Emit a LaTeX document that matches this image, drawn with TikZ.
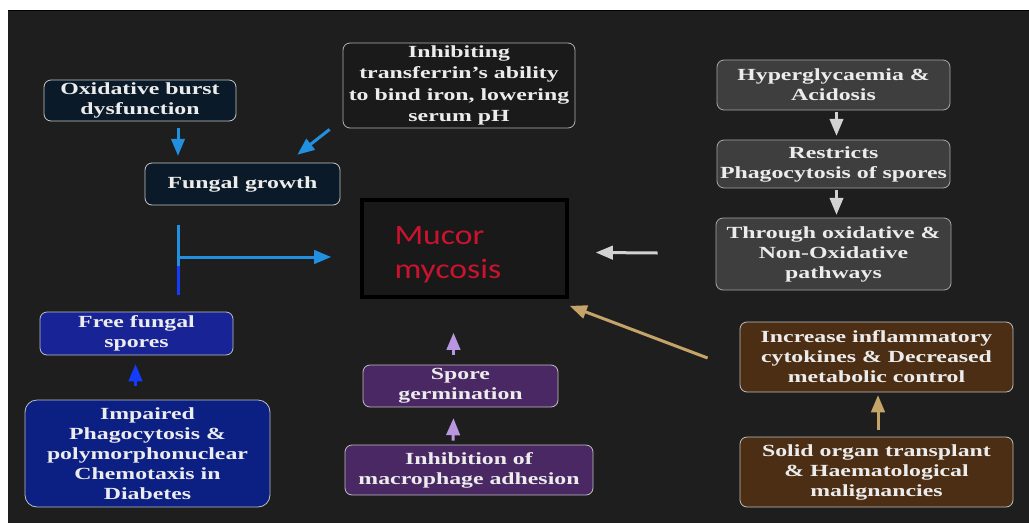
\documentclass[tikz,border=0pt]{standalone}
\usepackage{fontspec}
\setmainfont{Liberation Serif}[FakeStretch=1.4]
\newfontfamily\mucorfont{Carlito}[FakeStretch=1.2]
\usetikzlibrary{shapes,arrows,positioning}
\definecolor{bgdark}{RGB}{30,30,30}
\definecolor{boxtext}{RGB}{236,236,236}
\definecolor{navyfill}{RGB}{10,26,40}
\definecolor{inhibfill}{RGB}{26,26,26}
\definecolor{sporeblue}{RGB}{24,36,150}
\definecolor{impairedblue}{RGB}{12,32,132}
\definecolor{purplefill}{RGB}{74,40,100}
\definecolor{greyfill}{RGB}{62,62,62}
\definecolor{brownfill}{RGB}{76,46,20}
\definecolor{arrowblue}{RGB}{34,144,222}
\definecolor{brightblue}{RGB}{20,60,255}
\definecolor{arrowtan}{RGB}{196,164,104}
\definecolor{arrowlilac}{RGB}{184,150,224}
\definecolor{arrowgrey}{RGB}{210,210,210}
\definecolor{mucorred}{RGB}{204,18,46}

\tikzset{
  basebox/.style={rectangle, rounded corners=7pt, inner sep=2pt, align=center,
    text=boxtext, line width=0.8pt,
    font=\bfseries\fontsize{17}{20}\selectfont},
  navybox/.style={basebox, fill=navyfill, draw=gray!45},
  inhibbox/.style={basebox, fill=inhibfill, draw=gray!60},
  bluebox/.style={basebox, fill=#1, draw=gray!50},
  purplebox/.style={basebox, fill=purplefill, draw=gray!50},
  greybox/.style={basebox, fill=greyfill, draw=gray!70},
  brownbox/.style={basebox, fill=brownfill, draw=gray!50},
  mucorbox/.style={rectangle, fill=black!90, draw=black, line width=4pt,
    align=left, text=mucorred, font=\mucorfont\fontsize{28}{34}\selectfont},
  flow/.style={-triangle 45, line width=3pt, draw=#1},
}

\begin{document}
\begin{tikzpicture}[x=1pt, y=-1pt]
  \useasboundingbox (0,0) rectangle (1029,523);
  \fill[white] (0,0) rectangle (1029,523);
  \fill[bgdark] (8,10) rectangle (1029,523);
  \draw[black, line width=1pt] (8,10.5) -- (1029,10.5);

  % left column
  \node[navybox, minimum width=192pt, minimum height=41pt] (oxid) at (140,100.5) {Oxidative burst\\dysfunction};
  \node[navybox, minimum width=195pt, minimum height=42pt] (fungal) at (242.5,184) {Fungal growth};
  \node[inhibbox, minimum width=232pt, minimum height=85pt, font=\bfseries\fontsize{17}{21.5}\selectfont] (inhib) at (459,85.5) {Inhibiting\\transferrin's ability\\to bind iron, lowering\\serum pH};
  \node[bluebox=sporeblue, minimum width=193pt, minimum height=43pt] (free) at (136.5,333.5) {Free fungal\\spores};
  \node[bluebox=impairedblue, rounded corners=12pt, minimum width=245pt, minimum height=107pt] (impaired) at (147.5,453.5) {Impaired\\Phagocytosis \&\\polymorphonuclear\\Chemotaxis in\\Diabetes};

  % centre
  \node[mucorbox, minimum width=205pt, minimum height=97pt, text width=140pt, inner xsep=31pt] (mucor) at (464.5,248.5) {\rule{0pt}{30pt}Mucor\\mycosis};
  \node[purplebox, minimum width=195pt, minimum height=42pt] (spore) at (460.5,386) {Spore\\germination};
  \node[purplebox, minimum width=248pt, minimum height=50pt] (inhmac) at (469,470) {Inhibition of\\macrophage adhesion};

  % right column
  \node[greybox, minimum width=233pt, minimum height=50pt] (hyper) at (833.5,85) {Hyperglycaemia \&\\Acidosis};
  \node[greybox, minimum width=233pt, minimum height=48pt] (restr) at (833.5,164) {Restricts\\Phagocytosis of spores};
  \node[greybox, minimum width=235pt, minimum height=72pt] (through) at (833.5,254) {Through oxidative \&\\Non-Oxidative\\pathways};
  \node[brownbox, minimum width=273pt, minimum height=70pt] (increase) at (876.5,357) {Increase inflammatory\\cytokines \& Decreased\\metabolic control};
  \node[brownbox, minimum width=273pt, minimum height=70pt] (solid) at (876.5,472) {Solid organ transplant\\\& Haematological\\malignancies};

  % T-bar towards the centre
  \coordinate (ttop) at (178,225);
  \coordinate (tmid) at (178,257);
  \coordinate (tlow) at (178,266);
  \coordinate (tbot) at (178,295);
  \coordinate (tend) at (331,257);

  % connectors
  \draw[flow=arrowblue] ([xshift=38pt,yshift=-7pt]oxid.south) -- ([xshift=-64.5pt,yshift=7pt]fungal.north);
  \draw[flow=arrowblue] ([shift={(-13pt,-1pt)}]inhib.south west) -- ([shift={(55pt,8pt)}]fungal.north);
  \draw[arrowblue, line width=3pt] (ttop) -- (tlow);
  \draw[brightblue, line width=3pt] (tlow) -- (tbot);
  \draw[flow=arrowblue] (tmid) -- (tend);
  \draw[flow=brightblue] ([xshift=-12pt,yshift=14pt]impaired.north) -- ([xshift=-1pt,yshift=-9pt]free.south);
  \draw[flow=arrowgrey] ([xshift=-58pt,yshift=1pt]through.west) -- ([xshift=27pt,yshift=-4pt]mucor.east);
  \draw[flow=arrowtan] ([shift={(-32pt,-1pt)}]increase.west) -- ([shift={(1pt,-7pt)}]mucor.south east);
  \draw[flow=arrowlilac] ([xshift=-7pt,yshift=10pt]spore.north) -- ([xshift=-11pt,yshift=-34pt]mucor.south);
  \draw[flow=arrowlilac] ([xshift=-16pt,yshift=4pt]inhmac.north) -- ([xshift=-7pt,yshift=-11pt]spore.south);
  \draw[flow=arrowgrey] ([xshift=3pt,yshift=-2pt]hyper.south) -- ([xshift=3pt,yshift=4pt]restr.north);
  \draw[flow=arrowgrey] ([xshift=3pt,yshift=-2pt]restr.south) -- ([xshift=3pt,yshift=3pt]through.north);
  \draw[flow=arrowtan] ([xshift=1.5pt,yshift=7pt]solid.north) -- ([xshift=1.5pt,yshift=-3pt]increase.south);
\end{tikzpicture}
\end{document}
